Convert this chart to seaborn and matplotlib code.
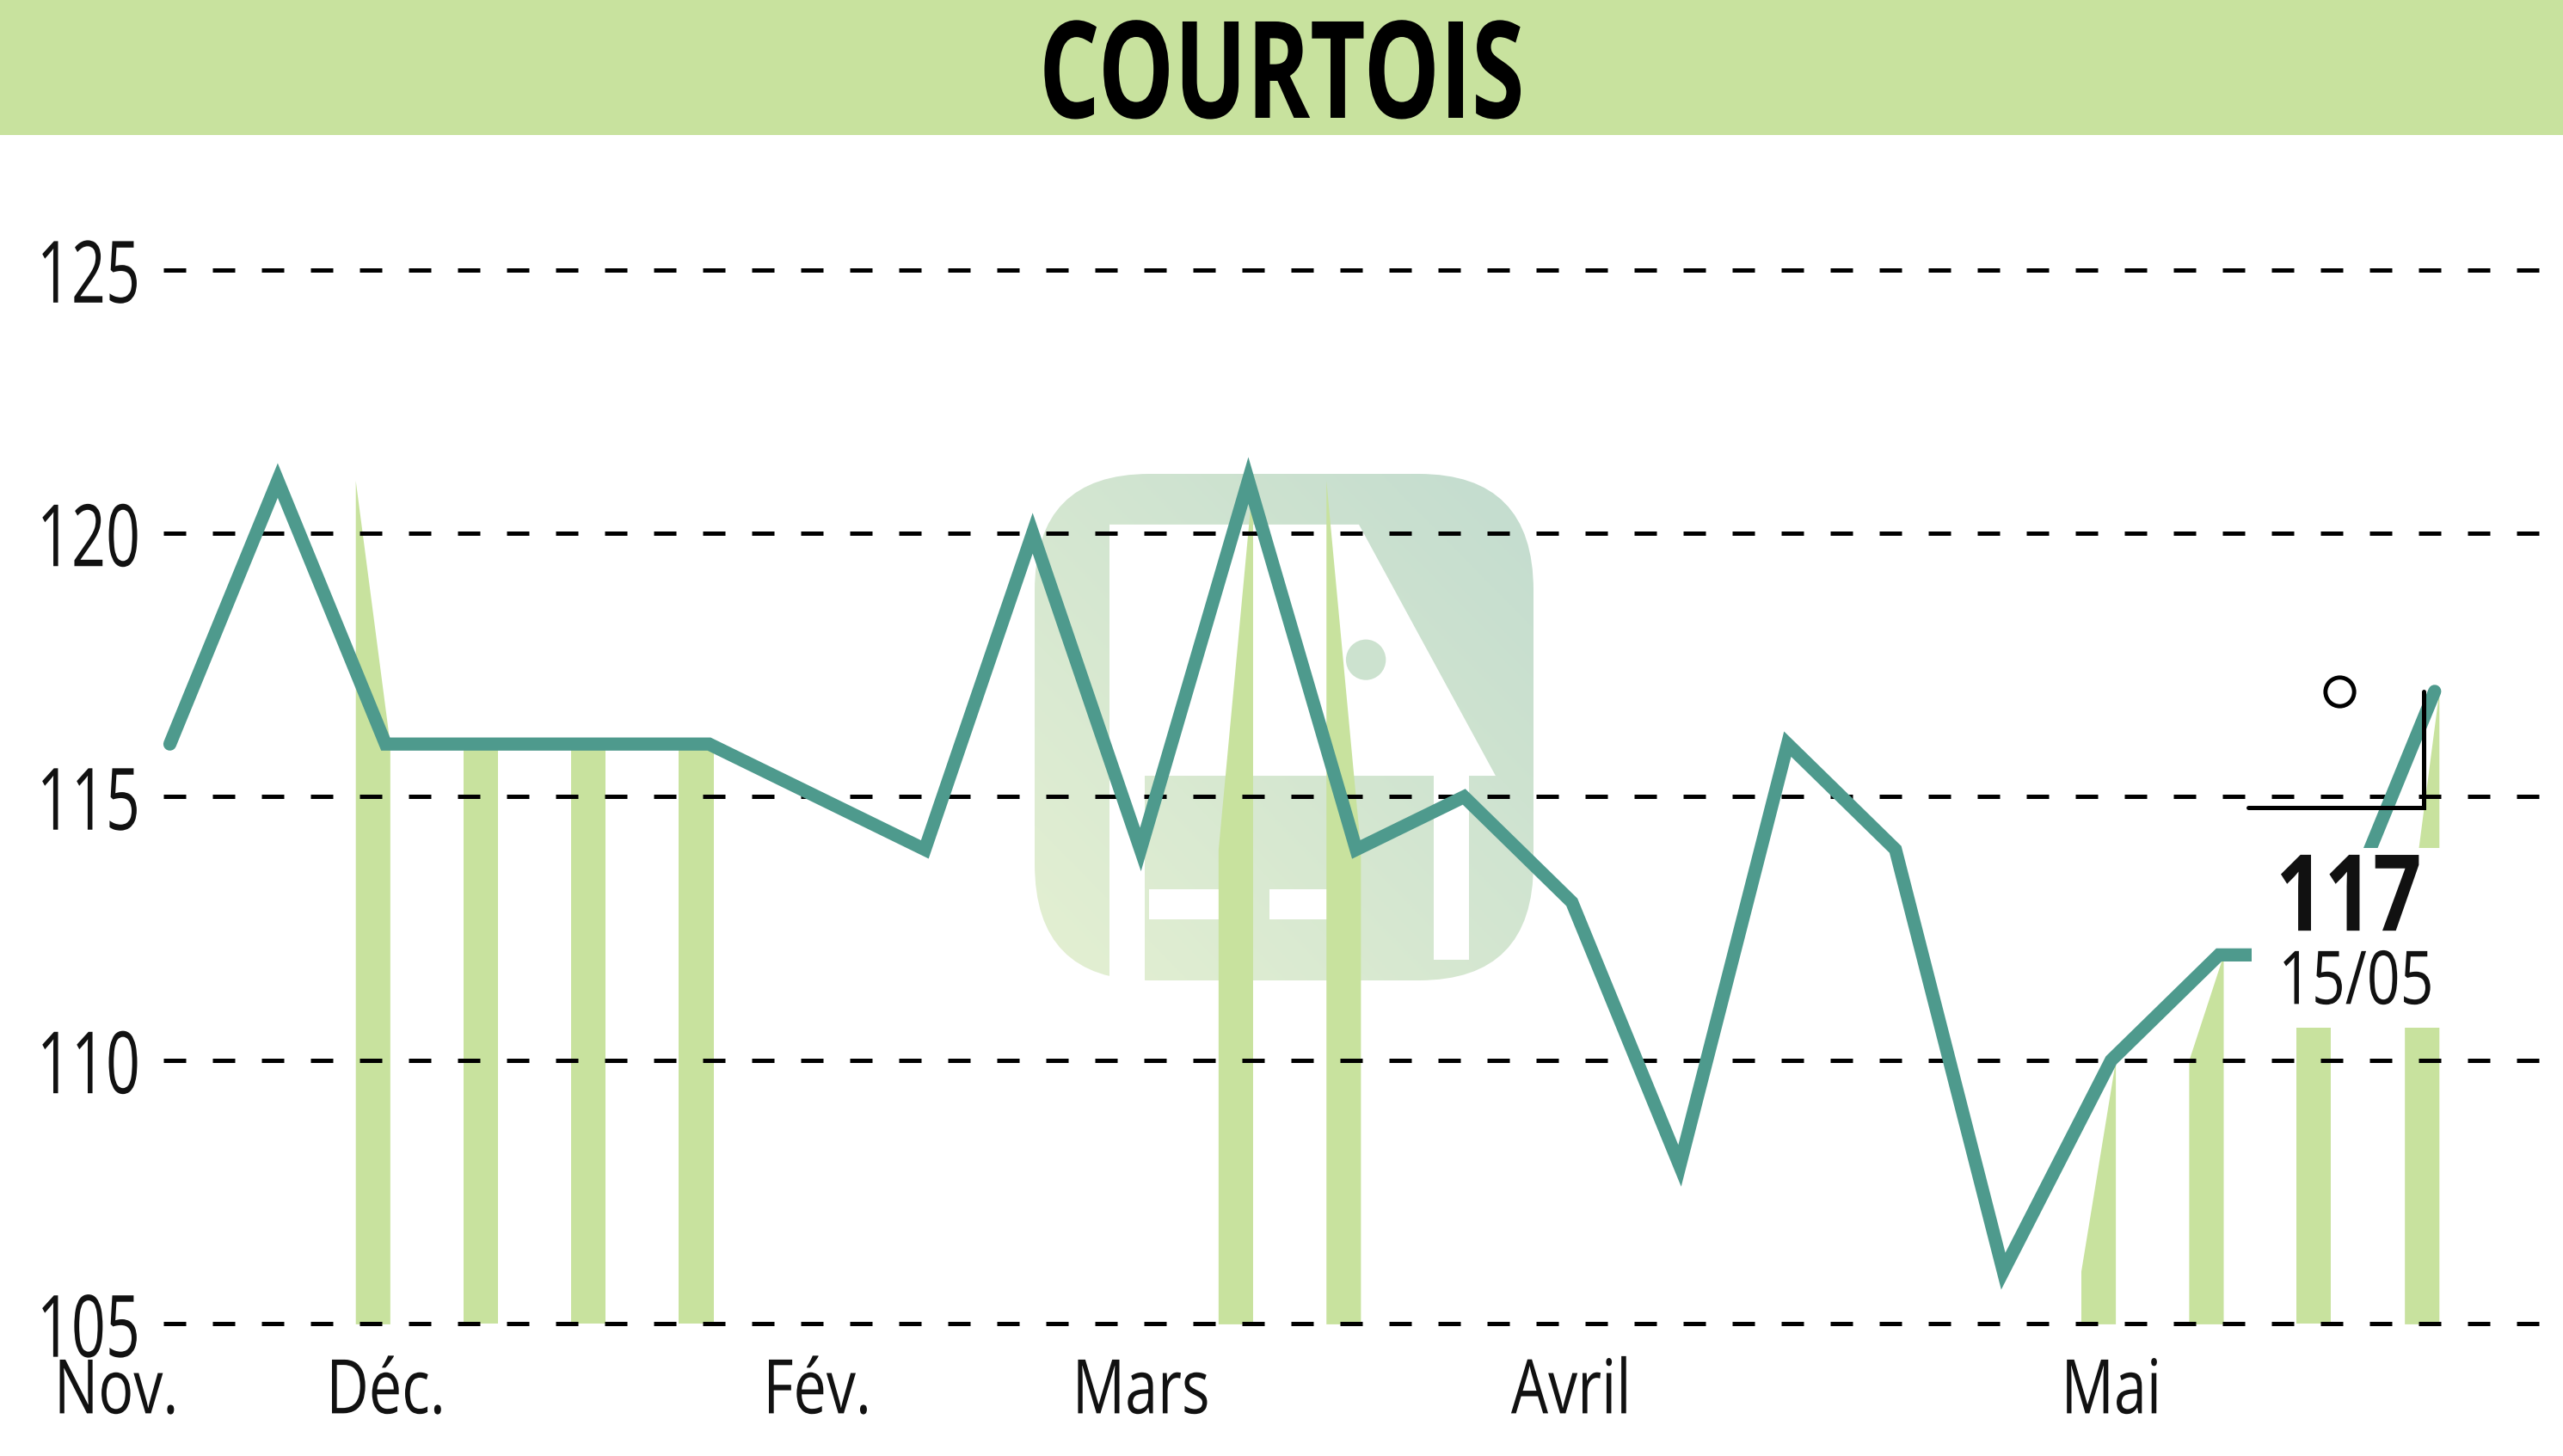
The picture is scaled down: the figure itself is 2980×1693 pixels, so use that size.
import numpy as np
import pandas as pd
import matplotlib
matplotlib.use('Agg')
import matplotlib.pyplot as plt
import seaborn as sns
from matplotlib import patheffects
from matplotlib.transforms import Affine2D
from matplotlib.patches import FancyBboxPatch, Polygon, Rectangle, Circle

# Données (cours hebdomadaires)
prices = [116, 121, 116, 116, 116, 116, 115, 114, 120, 114, 121,
          114, 115, 113, 108, 116, 114, 106, 110, 112, 112, 117]
# semaines avec volume
vol_weeks = [2, 3, 4, 5, 10, 11, 18, 19, 20, 21]
month_labels = ['Déc.', 'Fév.', 'Mars', 'Avril', 'Mai']
month_pos = [2, 6, 9, 13, 18]
first_label = 'Nov.'
first_pos = -0.5
y_ticks = [105, 110, 115, 120, 125]
last_value = '117'
last_date = '15/05'
title = 'COURTOIS'

LINE = '#4e9a8d'
BAR = '#c8e29e'
FONT = ['Open Sans', 'DejaVu Sans']


class Squeeze(patheffects.AbstractPathEffect):
    """Compresse horizontalement le texte (police condensée)."""

    def __init__(self, sx, anchor='center'):
        super().__init__()
        self.sx = sx
        self.anchor = anchor

    def draw_path(self, renderer, gc, tpath, affine, rgbFace=None):
        ext = tpath.get_extents(affine)
        if self.anchor == 'right':
            cx = ext.x1
        elif self.anchor == 'left':
            cx = ext.x0
        else:
            cx = (ext.x0 + ext.x1) / 2
        aff = affine + Affine2D().translate(-cx, 0).scale(self.sx, 1).translate(cx, 0)
        renderer.draw_path(gc, tpath, aff, rgbFace)


sns.set_style('white')
plt.rcParams['font.family'] = FONT

W, H = 2980, 1693
fig = plt.figure(figsize=(W / 100, H / 100), dpi=100)

# bandeau titre
fig.patches.append(Rectangle((0, 1 - 157 / H), 1, 157 / H, transform=fig.transFigure,
                             facecolor=BAR, edgecolor='none', zorder=0))
fig.text(0.5, 1 - 137 / H, title, ha='center', va='baseline', fontsize=113,
         fontweight='bold', color='black', path_effects=[Squeeze(0.71)])

# filigrane (logo)
wm = fig.add_axes([1203 / W, 1 - 1140 / H, 580 / W, 589 / H], zorder=0)
wm.set_xlim(0, 1)
wm.set_ylim(0, 1)
wm.axis('off')
gx, gy = np.meshgrid(np.linspace(0, 1, 200), np.linspace(0, 1, 200))
grad = (gx + gy) / 2
cmap = matplotlib.colors.LinearSegmentedColormap.from_list('wm', ['#e4f0d2', '#c3dccf'])
im = wm.imshow(grad, extent=(0, 1, 0, 1), origin='lower', cmap=cmap, aspect='auto')
clip = FancyBboxPatch((0, 0), 1, 1, boxstyle='round,pad=0,rounding_size=0.23',
                      transform=wm.transData, facecolor='none', edgecolor='none')
wm.add_patch(clip)
im.set_clip_path(clip)
wm.add_patch(Polygon([(0.15, 0.9), (0.65, 0.9), (0.924, 0.404), (0.15, 0.404)],
                     facecolor='white', edgecolor='none'))
wm.add_patch(Rectangle((0.15, 0.0), 0.071, 0.41, facecolor='white', edgecolor='none'))
wm.add_patch(Rectangle((0.80, 0.04), 0.07, 0.37, facecolor='white', edgecolor='none'))
wm.add_patch(Rectangle((0.23, 0.12), 0.19, 0.06, facecolor='white', edgecolor='none'))
wm.add_patch(Rectangle((0.47, 0.12), 0.18, 0.06, facecolor='white', edgecolor='none'))
wm.add_patch(Circle((0.664, 0.633), 0.04, facecolor='#cce2cf', edgecolor='none'))

# graphique principal
ax = fig.add_axes([190 / W, 0.0853, 1 - 190 / W, 0.7657], zorder=1)
ax.patch.set_alpha(0)

# barres de volume (sommet en pente : cours précédent -> cours du jour)
for w in vol_weeks:
    xs = [w - 0.28, w + 0.04]
    ax.fill_between(xs, [prices[w - 1], prices[w]], 105, color=BAR, lw=0, zorder=1)

df = pd.DataFrame({'semaine': np.arange(len(prices)), 'cours': prices})
sns.lineplot(data=df, x='semaine', y='cours', ax=ax, color=LINE, lw=11,
             solid_joinstyle='miter', zorder=3, clip_on=False)

ax.set_axisbelow(False)
ax.grid(axis='y', color='black', lw=3.6, linestyle=(0, (5.2, 6.2)), zorder=2.5)
ax.grid(axis='x', visible=False)
for s in ax.spines.values():
    s.set_visible(False)

ax.set_yticks(y_ticks)
ax.set_yticklabels([str(v) for v in y_ticks], fontsize=72, color='#111111', ha='center')
ax.set_xticks(month_pos)
ax.set_xticklabels(month_labels, fontsize=63, color='#111111')
ax.tick_params(axis='y', length=0, pad=63)
ax.tick_params(axis='x', length=0, pad=20)
for t in ax.get_yticklabels():
    t.set_path_effects([Squeeze(0.70)])
for t in ax.get_xticklabels():
    t.set_path_effects([Squeeze(0.78)])
ax.set_xlabel('')
ax.set_ylabel('')
ax.set_xlim(-0.06, 22.19)
ax.set_ylim(104.85, 126)

ax.text(first_pos, 104.85 - 27.8 / 61.29, first_label, ha='center', va='top',
        fontsize=63, color='#111111', path_effects=[Squeeze(0.78)])

# étiquette dernier cours
n = len(prices) - 1
lv = prices[-1]
ax.text(n - 0.8, lv - 4.54, last_value, ha='center', va='baseline', fontsize=89,
        fontweight='bold', color='#111111', zorder=5, path_effects=[Squeeze(0.8)],
        bbox=dict(boxstyle='square,pad=0.02', facecolor='white', edgecolor='none'))
ax.text(n - 0.73, lv - 5.93, last_date, ha='center', va='baseline', fontsize=62,
        color='#111111', zorder=5, path_effects=[Squeeze(0.79)],
        bbox=dict(boxstyle='square,pad=0.08', facecolor='white', edgecolor='none'))
ax.plot([n - 1.73, n - 0.1, n - 0.1], [lv - 2.2, lv - 2.2, lv], color='black',
        lw=3.6, zorder=4, solid_joinstyle='miter')
ax.plot([n - 0.88], [lv], marker='o', ms=24, mfc='none', mec='black', mew=3.5, zorder=4)

fig.savefig('out.png', dpi=100)
